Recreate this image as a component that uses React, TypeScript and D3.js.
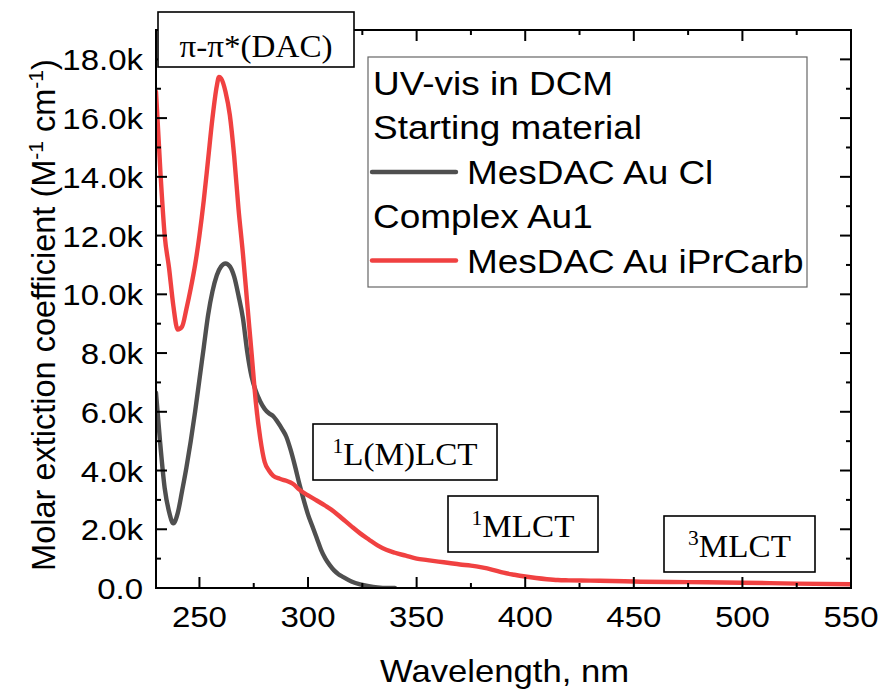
import React, { useEffect, useRef } from 'react';
import * as d3 from 'd3';

// values, absorbance in thousands (k)
const grayWavelength = [230, 231.8, 234, 236, 238, 240, 242, 244, 246, 248, 250, 252, 254, 256, 258, 260, 262, 264, 266, 268, 270, 272, 274, 276, 278, 280, 282, 284, 286, 288, 290, 292, 294, 296, 298, 300, 302, 304, 306, 308, 310, 312, 314, 316, 320, 324, 328, 332, 336, 340];
const grayValues = [6.65, 5.04, 3.4, 2.6, 2.2, 2.55, 3.3, 4.1, 5.0, 6.0, 7.1, 8.2, 9.3, 10.1, 10.65, 10.95, 11.05, 10.95, 10.6, 9.95, 9.2, 8.05, 7.2, 6.7, 6.35, 6.1, 5.95, 5.85, 5.65, 5.42, 5.15, 4.7, 4.15, 3.55, 3.0, 2.5, 2.1, 1.7, 1.3, 1.0, 0.78, 0.6, 0.47, 0.38, 0.22, 0.12, 0.06, 0.02, 0, 0];

const redWavelength = [230, 232, 234, 236, 238, 240, 242, 244, 246, 248, 250, 252, 254, 256, 258, 259, 260, 262, 264, 266, 268, 270, 272, 274, 276, 278, 280, 282, 284, 287, 290, 293, 296, 300, 304, 308, 312, 316, 320, 324, 328, 332, 336, 340, 345, 350, 355, 360, 365, 370, 375, 380, 385, 390, 395, 400, 405, 410, 415, 420, 430, 440, 450, 475, 500, 525, 550];
const redValues = [16.9, 14.2, 12.0, 10.9, 9.6, 8.8, 8.9, 9.5, 10.2, 11.0, 12.0, 13.2, 14.6, 16.0, 17.1, 17.4, 17.35, 16.9, 16.1, 14.7, 12.9, 11.4, 9.7, 8.0, 6.3, 5.1, 4.3, 4.0, 3.82, 3.72, 3.65, 3.55, 3.35, 3.15, 2.98, 2.8, 2.6, 2.35, 2.1, 1.86, 1.65, 1.45, 1.3, 1.2, 1.1, 1.0, 0.95, 0.9, 0.85, 0.8, 0.76, 0.7, 0.62, 0.52, 0.45, 0.39, 0.34, 0.30, 0.27, 0.26, 0.25, 0.24, 0.22, 0.2, 0.18, 0.15, 0.13];

const xMajorTicks = [250, 300, 350, 400, 450, 500, 550];
const xMinorTicks = [275, 325, 375, 425, 475, 525];
const yMajorTicks = [0, 2, 4, 6, 8, 10, 12, 14, 16, 18];
const yMinorTicks = [1, 3, 5, 7, 9, 11, 13, 15, 17];

const legendTitle = 'UV-vis in DCM';
const seriesGroups = ['Starting material', 'Complex Au1'];
const seriesNames = ['MesDAC Au Cl', 'MesDAC Au iPrCarb'];
const seriesColors = ['#4f4f4f', '#f04141'];

const SANS = '"Liberation Sans", Arial, sans-serif';
const SERIF = '"Liberation Serif", "Times New Roman", serif';

function App() {
    const svgRef = useRef<SVGSVGElement>(null);

    useEffect(() => {
        const svg = d3.select(svgRef.current);
        svg.selectAll('*').remove();

        const left = 156, right = 851, top = 30, bottom = 588;
        const x = d3.scaleLinear().domain([230, 550]).range([left, right]);
        const y = d3.scaleLinear().domain([0, 19]).range([bottom, top]);

        const addText = (g, tx, ty, str, size, anchor, stretch = 1.1, family = SANS) =>
            g.append('text')
                .attr('transform', `translate(${tx},${ty}) scale(${stretch},1)`)
                .attr('text-anchor', anchor)
                .style('font-family', family)
                .style('font-size', `${size}px`)
                .attr('fill', '#000')
                .text(str);

        svg.append('defs').append('clipPath').attr('id', 'plotclip')
            .append('rect').attr('x', left).attr('y', top)
            .attr('width', right - left).attr('height', bottom - top);

        // curves
        const line = d3.line<[number, number]>()
            .x(d => x(d[0])).y(d => y(d[1]))
            .curve(d3.curveMonotoneX);
        const series = [
            d3.zip(grayWavelength, grayValues),
            d3.zip(redWavelength, redValues),
        ];
        const plot = svg.append('g').attr('clip-path', 'url(#plotclip)');
        series.forEach((s, i) => {
            plot.append('path')
                .attr('d', line(s as [number, number][]))
                .attr('fill', 'none')
                .attr('stroke', seriesColors[i])
                .attr('stroke-width', 4.4)
                .attr('stroke-linejoin', 'round')
                .attr('stroke-linecap', 'round');
        });

        // frame and inward ticks
        const axes = svg.append('g').attr('stroke', '#000').attr('stroke-width', 2);
        axes.append('rect').attr('x', left).attr('y', top)
            .attr('width', right - left).attr('height', bottom - top)
            .attr('fill', 'none');
        const tickX = (v, len) => {
            axes.append('line').attr('x1', x(v)).attr('x2', x(v)).attr('y1', bottom).attr('y2', bottom - len);
            axes.append('line').attr('x1', x(v)).attr('x2', x(v)).attr('y1', top).attr('y2', top + len);
        };
        const tickY = (v, len) => {
            axes.append('line').attr('y1', y(v)).attr('y2', y(v)).attr('x1', left).attr('x2', left + len);
            axes.append('line').attr('y1', y(v)).attr('y2', y(v)).attr('x1', right).attr('x2', right - len);
        };
        xMajorTicks.forEach(v => tickX(v, 11));
        xMinorTicks.forEach(v => tickX(v, 5));
        yMajorTicks.forEach(v => tickY(v, 11));
        yMinorTicks.forEach(v => tickY(v, 5));

        const labels = svg.append('g');
        xMajorTicks.forEach(v => addText(labels, x(v), 627, String(v), 30, 'middle'));
        yMajorTicks.forEach(v => addText(labels, 143, y(v) + 11, v === 0 ? '0.0' : `${v.toFixed(1)}k`, 30, 'end'));

        addText(labels, (left + right) / 2 + 1, 682, 'Wavelength, nm', 31.5, 'middle');

        const yl = labels.append('text')
            .attr('transform', `translate(55,${(top + bottom) / 2 + 6}) rotate(-90)`)
            .attr('text-anchor', 'middle')
            .style('font-family', SANS)
            .style('font-size', '32.5px');
        yl.append('tspan').text('Molar extiction coefficient (M');
        yl.append('tspan').attr('dy', -12).style('font-size', '21px').text('-1');
        yl.append('tspan').attr('dy', 12).text(' cm');
        yl.append('tspan').attr('dy', -12).style('font-size', '21px').text('-1');
        yl.append('tspan').attr('dy', 12).text(')');

        // legend
        const lg = svg.append('g');
        lg.append('rect').attr('x', 368).attr('y', 57).attr('width', 439).attr('height', 230)
            .attr('fill', '#fff').attr('stroke', '#666').attr('stroke-width', 1.2);
        addText(lg, 373, 95, legendTitle, 33, 'start', 1.12);
        seriesGroups.forEach((grp, i) => {
            const base = 139 + i * 88.5;
            addText(lg, 373, base, grp, 33, 'start', 1.12);
            lg.append('line').attr('x1', 372).attr('x2', 456)
                .attr('y1', base + 33).attr('y2', base + 33)
                .attr('stroke', seriesColors[i]).attr('stroke-width', 4.4)
                .attr('stroke-linecap', 'round');
            addText(lg, 467, base + 45, seriesNames[i], 33, 'start', 1.12);
        });

        // annotation boxes
        const boxes = [
            { x0: 158, y0: 12, w: 196, h: 55, base: 57, sup: '', txt: 'π-π*(DAC)' },
            { x0: 313, y0: 424, w: 184, h: 56, base: 465, sup: '1', txt: 'L(M)LCT' },
            { x0: 448, y0: 496, w: 150, h: 56, base: 537, sup: '1', txt: 'MLCT' },
            { x0: 664, y0: 516, w: 151, h: 56, base: 557, sup: '3', txt: 'MLCT' },
        ];
        const ann = svg.append('g');
        boxes.forEach(b => {
            ann.append('rect').attr('x', b.x0).attr('y', b.y0).attr('width', b.w).attr('height', b.h)
                .attr('fill', '#fff').attr('stroke', '#000').attr('stroke-width', 1.6);
            const t = ann.append('text')
                .attr('transform', `translate(${b.x0 + b.w / 2},${b.base}) scale(1.02,1)`)
                .attr('text-anchor', 'middle')
                .style('font-family', SERIF)
                .style('font-size', '32.5px');
            if (b.sup) {
                t.append('tspan').attr('dy', -12).style('font-size', '21px').text(b.sup);
                t.append('tspan').attr('dy', 12).text(b.txt);
            } else {
                t.text(b.txt);
            }
        });
    }, []);

    return (
        <svg ref={svgRef} width={882} height={690}
            style={{ position: 'absolute', left: 0, top: 0, background: '#fff' }} />
    );
}

export default App;
